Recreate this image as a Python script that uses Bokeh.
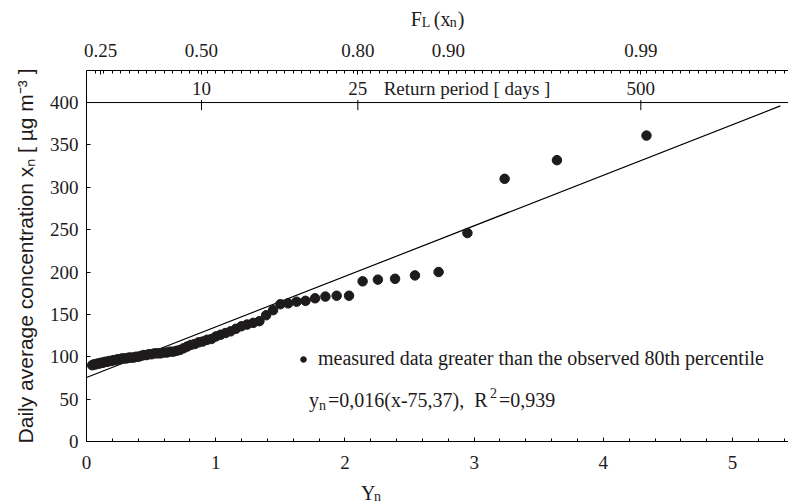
from bokeh.plotting import figure
from bokeh.layouts import column
from bokeh.models import Range1d, LinearAxis, FixedTicker, Span, Legend, LegendItem
from bokeh.embed import file_html
from bokeh.resources import INLINE
from bokeh.core.properties import value

# ---------------- data ----------------
yn = [0.044, 0.057, 0.071, 0.086, 0.100, 0.115, 0.129, 0.144, 0.160, 0.175,
      0.191, 0.207, 0.223, 0.240, 0.257, 0.274, 0.291, 0.309, 0.327, 0.345,
      0.364, 0.383, 0.402, 0.422, 0.442, 0.463, 0.484, 0.505, 0.527, 0.550,
      0.573, 0.596, 0.621, 0.645, 0.671, 0.697, 0.723, 0.751, 0.779, 0.808,
      0.838, 0.868, 0.900, 0.933, 0.967, 1.002, 1.038, 1.076, 1.115, 1.156,
      1.199, 1.243, 1.290, 1.338, 1.390, 1.444, 1.501, 1.561, 1.626, 1.695,
      1.769, 1.849, 1.936, 2.032, 2.137, 2.255, 2.388, 2.542, 2.725, 2.948,
      3.236, 3.641, 4.334]
conc = [90, 91, 91, 92, 92, 93, 93, 94, 94, 95,
        95, 96, 96, 97, 97, 98, 98, 98, 99, 99,
        99, 100, 100, 101, 102, 102, 103, 103, 104, 104,
        104, 105, 105, 106, 106, 107, 108, 110, 112, 114,
        115, 117, 118, 120, 121, 124, 126, 128, 130, 133,
        136, 138, 140, 142, 149, 155, 162, 163, 165, 166,
        169, 171, 172, 172, 189, 191, 192, 196, 200, 246,
        310, 332, 361]
fit_yn = [0.0, 5.37]
fit_conc = [75.5, 396.0]

x_ticks = [0, 1, 2, 3, 4, 5]
y_ticks = [0, 50, 100, 150, 200, 250, 300, 350, 400]
fl_pos = [0.11, 0.89, 2.10, 2.80, 4.29]
fl_labels = ["0.25", "0.50", "0.80", "0.90", "0.99"]
rp_pos = [0.89, 2.10, 4.29]
rp_labels = ["10", "25", "500"]
rp_line = 400

legend_text = "measured data greater than the observed 80th percentile"

# ---------------- styling constants ----------------
X_MAX = 5.433
Y_MAX = 437.8
SERIF = "Liberation Serif"
SANS = "Liberation Sans"
INK = "#1e1b1c"
NBSP = "\u00a0"
TOP_H, BOT_H, W = 30, 22, 788
MAIN_H = 504 - TOP_H - BOT_H

x_range = Range1d(0, X_MAX)

# ---------------- main figure ----------------
fig = figure(width=W, height=MAIN_H, output_backend="svg", toolbar_location=None,
             x_range=x_range, y_range=Range1d(0, Y_MAX),
             min_border_left=86, min_border_right=0, min_border_top=40, min_border_bottom=41)
fig.outline_line_color = None
fig.grid.grid_line_color = None
fig.background_fill_color = "white"
fig.border_fill_color = "white"

xa = fig.below[0]
ya = fig.left[0]
ta = LinearAxis()
fig.add_layout(ta, "above")

xa.ticker = FixedTicker(ticks=x_ticks, minor_ticks=[i * 0.2 for i in range(28)])
ya.ticker = FixedTicker(ticks=y_ticks, minor_ticks=[])
ta.ticker = FixedTicker(ticks=fl_pos, minor_ticks=[i / 15 for i in range(1, 82)])
ta.major_label_overrides = {pos: lab for pos, lab in zip(fl_pos, fl_labels)}

for ax in (xa, ya, ta):
    ax.axis_line_color = "black"
    ax.axis_line_width = 1
    ax.major_tick_in = 4
    ax.major_tick_out = 0
    ax.minor_tick_in = 3
    ax.minor_tick_out = 0
    ax.major_tick_line_color = "black"
    ax.minor_tick_line_color = "black"
    ax.major_label_text_font = SERIF
    ax.major_label_text_font_size = "19px"
    ax.major_label_text_color = INK

xa.major_label_standoff = 14
ya.major_label_standoff = 8
ta.major_label_standoff = 14

ya.axis_label = "Daily average concentration x\u2099 [ \u00b5g m\u207b\u00b3 ]"
ya.axis_label_text_font = SANS
ya.axis_label_text_font_style = "normal"
ya.axis_label_text_font_size = "21px"
ya.axis_label_text_color = INK
ya.axis_label_standoff = 10

# return period strip
fig.add_layout(Span(location=rp_line, dimension="width", line_color="black", line_width=1))
fig.segment(x0=rp_pos, y0=[rp_line + 3] * len(rp_pos), x1=rp_pos, y1=[rp_line - 9] * len(rp_pos),
            line_color="black", line_width=1)
fig.text(x=rp_pos, y=[rp_line + 16] * len(rp_pos), text=rp_labels, text_align="center",
         text_baseline="alphabetic", text_font=value(SERIF), text_font_size="19px", text_color=INK)
fig.text(x=[2.30], y=[rp_line + 16], text=["Return period [ days ]"], text_align="left",
         text_baseline="alphabetic", text_font=value(SERIF), text_font_size="19px", text_color=INK)

# fit line and data
fig.line(fit_yn, fit_conc, line_color="black", line_width=1.2)
pts = fig.scatter(yn, conc, size=9.5, fill_color=INK, line_color=INK)

legend = Legend(items=[LegendItem(label=legend_text, renderers=[pts])],
                location=(210, 71), orientation="vertical",
                border_line_color=None, background_fill_alpha=0,
                padding=0, margin=0, glyph_width=14, glyph_height=22, label_standoff=8,
                label_text_font=SERIF, label_text_font_size="20px", label_text_color=INK)
fig.add_layout(legend, "center")


def txt(f, x, y, text, size=20, xo=0):
    f.text(x=[x], y=[y], text=[text], x_offset=xo, text_font=value(SERIF),
           text_font_size=f"{size}px", text_align="left", text_baseline="alphabetic",
           text_color=INK)


# equation
ex, ey = 1.722, 49.0
txt(fig, ex, ey, "y")
txt(fig, ex, ey - 6, "n", size=14, xo=10)
txt(fig, ex, ey, "=0,016(x-75,37)," + NBSP + NBSP + "R", xo=19)
txt(fig, ex, ey + 8, "2", size=14, xo=181)
txt(fig, ex, ey, "=0,939", xo=190)


def strip(height):
    f = figure(width=W, height=height, output_backend="svg", toolbar_location=None, title=None,
               x_range=x_range, y_range=Range1d(0, height),
               x_axis_location=None, y_axis_location=None,
               min_border_left=86, min_border_right=0, min_border_top=0, min_border_bottom=0)
    f.outline_line_color = None
    f.grid.grid_line_color = None
    f.border_fill_color = "white"
    f.background_fill_color = "white"
    return f


# ---------------- top strip: F_L (x_n) ----------------
top = strip(TOP_H)
tx = 2.51
txt(top, tx, 12, "F")
txt(top, tx, 8, "L", size=14, xo=11)
txt(top, tx, 12, "(x", xo=23)
txt(top, tx, 8, "n", size=14, xo=39)
txt(top, tx, 12, ")", xo=47)

# ---------------- bottom strip: Y_n ----------------
bot = strip(BOT_H)
bx = 2.125
txt(bot, bx, 12, "Y")
txt(bot, bx, 8.5, "n", size=14, xo=13)

p = column(top, fig, bot, spacing=0)

open("out.html", "w").write(file_html(p, INLINE))
